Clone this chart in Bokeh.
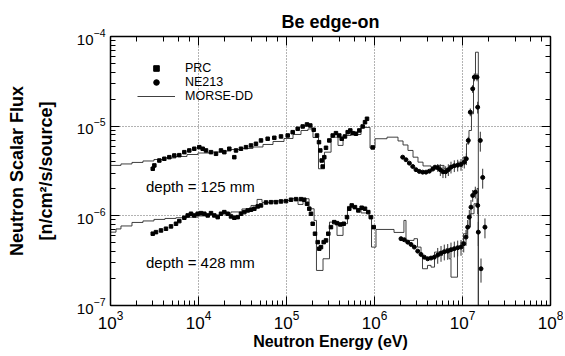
from bokeh.plotting import figure
from bokeh.models import (Range1d, LogAxis, Legend, LegendItem, Label,
                          CustomJSTickFormatter)
from bokeh.embed import file_html
from bokeh.resources import INLINE

# ---------------- data ----------------
# MORSE-DD calculation, depth 125 mm (histogram: bin edges in eV, flux per bin)
morse_125_edges = [1.0e3, 1.315e3, 1.754e3, 2.338e3, 3.118e3, 4.157e3, 5.543e3, 7.391e3, 9.856e3,
                   1.314e4, 1.753e4, 2.337e4, 3.117e4, 4.157e4, 5.404e4, 7.025e4, 9.37e4, 1.186e5,
                   1.462e5, 1.754e5, 2.0e5, 2.31e5, 2.70e5, 3.21e5, 3.85e5, 4.39e5, 5.41e5, 6.16e5,
                   7.03e5, 8.9e5, 1.014e6, 1.387e6, 1.85e6, 2.11e6, 2.40e6, 2.74e6, 3.12e6, 3.56e6,
                   4.39e6, 5.27e6, 6.17e6, 7.40e6, 8.89e6, 1.014e7, 1.11e7, 1.185e7, 1.265e7,
                   1.334e7, 1.405e7, 1.513e7]
morse_125_flux = [3.65e-6, 3.79e-6, 3.94e-6, 4.09e-6, 4.25e-6, 4.42e-6, 4.59e-6, 4.83e-6, 5.02e-6,
                  5.15e-6, 5.28e-6, 5.49e-6, 5.64e-6, 5.86e-6, 6.25e-6, 6.75e-6, 7.29e-6, 8.08e-6,
                  8.95e-6, 9.31e-6, 7.48e-6, 3.35e-6, 5.13e-6, 7.54e-6, 6.10e-6, 7.87e-6, 8.57e-6,
                  8.08e-6, 9.68e-6, 5.71e-6, 7.24e-6, 7.54e-6, 6.84e-6, 6.17e-6, 5.36e-6, 4.51e-6,
                  3.97e-6, 3.60e-6, 3.49e-6, 3.65e-6, 3.35e-6, 3.65e-6, 3.97e-6, 4.51e-6, 6.37e-6,
                  8.95e-6, 1.374e-5, 3.51e-5, 6.68e-5]

# MORSE-DD calculation, depth 428 mm
morse_428_edges = [1.0e3, 1.155e3, 1.315e3, 1.754e3, 2.338e3, 3.118e3, 4.157e3, 5.543e3, 7.391e3,
                   9.856e3, 1.314e4, 1.753e4, 2.337e4, 3.117e4, 3.95e4, 4.63e4, 5.27e4, 7.025e4,
                   9.37e4, 1.125e5, 1.352e5, 1.541e5, 1.805e5, 2.06e5, 2.19e5, 2.60e5, 3.08e5,
                   3.75e5, 4.39e5, 4.93e5, 5.70e5, 7.03e5, 8.67e5, 9.25e5, 1.04e6, 1.667e6, 2.16e6,
                   2.28e6, 2.81e6, 3.08e6, 3.38e6, 3.51e6, 4.00e6, 4.39e6, 4.81e6, 5.41e6, 5.93e6,
                   6.50e6, 7.03e6, 7.40e6, 8.77e6, 9.61e6, 1.026e7, 1.125e7, 1.233e7, 1.352e7,
                   1.463e7, 1.513e7]
morse_428_flux = [6.58e-7, 7.14e-7, 7.71e-7, 8.44e-7, 8.77e-7, 9.12e-7, 9.35e-7, 9.52e-7, 9.67e-7,
                  9.97e-7, 1.023e-6, 1.064e-6, 1.105e-6, 1.193e-6, 1.305e-6, 1.524e-6, 1.41e-6,
                  1.466e-6, 1.485e-6, 1.551e-6, 1.34e-6, 1.551e-6, 1.199e-6, 8.89e-7, 2.46e-7,
                  3.32e-7, 8.51e-7, 6.05e-7, 8.17e-7, 1.273e-6, 1.21e-6, 1.077e-6, 9.29e-7, 4.48e-7,
                  7.05e-7, 6.53e-7, 8.89e-7, 5.32e-7, 5.56e-7, 4.48e-7, 3.62e-7, 2.57e-7, 2.80e-7,
                  2.68e-7, 3.94e-7, 3.62e-7, 3.94e-7, 4.30e-7, 3.32e-7, 2.07e-7, 4.48e-7, 5.09e-7,
                  6.31e-7, 7.48e-7, 1.055e-6, 1.364e-6, 2.02e-6]

# PRC measurements, depth 125 mm
prc_125_energy = [3.02e3, 3.15e3, 3.59e3, 4.09e3, 4.66e3, 5.31e3, 6.05e3, 6.90e3, 7.86e3, 8.96e3,
                  1.021e4, 1.116e4, 1.217e4, 1.387e4, 1.581e4, 1.802e4, 1.965e4, 2.239e4, 2.552e4,
                  2.668e4, 3.04e4, 3.466e4, 3.95e4, 4.50e4, 5.13e4, 6.11e4, 7.27e4, 8.66e4, 1.032e5,
                  1.176e5, 1.341e5, 1.528e5, 1.71e5, 1.864e5, 2.038e5, 2.222e5, 2.34e5, 2.42e5,
                  2.512e5, 2.578e5, 2.688e5, 2.81e5, 3.064e5, 3.35e5, 3.65e5, 3.98e5, 4.24e5,
                  4.62e5, 4.96e5, 5.31e5, 5.65e5, 6.16e5, 6.72e5, 7.34e5, 7.80e5, 8.22e5, 9.54e5]
prc_125_flux = [3.35e-6, 3.65e-6, 4.14e-6, 4.33e-6, 4.51e-6, 4.71e-6, 4.75e-6, 5.13e-6, 5.36e-6,
                5.60e-6, 5.83e-6, 5.60e-6, 5.36e-6, 5.13e-6, 4.92e-6, 5.36e-6, 5.13e-6, 5.60e-6,
                4.51e-6, 5.36e-6, 5.60e-6, 5.83e-6, 6.09e-6, 6.36e-6, 6.93e-6, 7.24e-6, 7.42e-6,
                7.68e-6, 7.87e-6, 8.57e-6, 9.35e-6, 9.92e-6, 1.045e-5, 1.018e-5, 9.12e-6, 7.87e-6,
                6.63e-6, 5.36e-6, 4.14e-6, 3.55e-6, 4.51e-6, 5.74e-6, 6.93e-6, 7.87e-6, 8.36e-6,
                7.87e-6, 7.24e-6, 7.68e-6, 8.57e-6, 8.96e-6, 8.36e-6, 8.23e-6, 8.96e-6, 9.92e-6,
                1.108e-5, 1.209e-5, 5.79e-6]

# NE213 measurements, depth 125 mm
ne213_125_energy = [2.09e6, 2.28e6, 2.49e6, 2.72e6, 2.96e6, 3.23e6, 3.53e6, 3.85e6, 4.20e6, 4.59e6,
                    4.87e6, 5.23e6, 5.60e6, 6.00e6, 6.44e6, 6.90e6, 7.40e6, 8.07e6, 8.82e6, 9.62e6,
                    1.048e7, 1.105e7, 1.164e7, 1.226e7, 1.306e7, 1.362e7, 1.462e7, 1.488e7, 1.594e7]
ne213_125_flux = [4.51e-6, 4.22e-6, 3.87e-6, 3.55e-6, 3.27e-6, 3.13e-6, 3.07e-6, 3.07e-6, 3.15e-6,
                  3.32e-6, 3.49e-6, 3.44e-6, 3.27e-6, 3.10e-6, 3.10e-6, 3.27e-6, 3.49e-6, 3.62e-6,
                  3.67e-6, 3.74e-6, 3.97e-6, 4.33e-6, 6.93e-6, 1.432e-5, 2.61e-5, 3.52e-5, 3.52e-5,
                  1.628e-5, 6.93e-6]
ne213_125_relerr = [0, 0, 0, 0, 0, 0, 0, 0, 0, 0, 0, 0.1, 0.15, 0.15, 0.15, 0.15, 0.15, 0.15, 0.15,
                    0.15, 0.15, 0.15, 0.1, 0.1, 0.1, 0.1, 0.1, 0.15, 0.25]

# PRC measurements, depth 428 mm
prc_428_energy = [3.02e3, 3.29e3, 3.75e3, 4.27e3, 4.87e3, 5.55e3, 6.05e3, 6.90e3, 7.54e3, 8.22e3,
                  8.96e3, 9.79e3, 1.068e4, 1.164e4, 1.273e4, 1.387e4, 1.512e4, 1.653e4, 1.802e4,
                  1.965e4, 2.147e4, 2.34e4, 2.552e4, 2.79e4, 3.04e4, 3.315e4, 3.624e4, 3.95e4,
                  4.31e4, 4.71e4, 5.13e4, 5.85e4, 6.67e4, 7.60e4, 8.66e4, 9.87e4, 1.125e5, 1.282e5,
                  1.461e5, 1.593e5, 1.71e5, 1.816e5, 1.898e5, 1.985e5, 2.108e5, 2.262e5, 2.359e5,
                  2.466e5, 2.647e5, 2.81e5, 2.985e5, 3.20e5, 3.49e5, 3.75e5, 4.09e5, 4.47e5, 4.87e5,
                  5.17e5, 5.51e5, 6.00e5, 6.55e5, 7.15e5, 7.80e5, 8.50e5, 9.13e5, 9.79e5]
prc_428_flux = [6.32e-7, 6.58e-7, 6.87e-7, 7.18e-7, 7.62e-7, 8.16e-7, 8.73e-7, 9.52e-7, 1.010e-6,
                1.055e-6, 1.010e-6, 1.055e-6, 1.072e-6, 1.055e-6, 1.010e-6, 1.072e-6, 1.010e-6,
                9.67e-7, 1.055e-6, 1.100e-6, 1.055e-6, 9.85e-7, 9.52e-7, 9.67e-7, 1.055e-6,
                1.100e-6, 1.149e-6, 1.17e-6, 1.20e-6, 1.273e-6, 1.306e-6, 1.41e-6, 1.42e-6,
                1.421e-6, 1.447e-6, 1.459e-6, 1.512e-6, 1.535e-6, 1.535e-6, 1.512e-6, 1.364e-6,
                1.20e-6, 1.055e-6, 8.16e-7, 6.32e-7, 5.09e-7, 4.30e-7, 4.48e-7, 5.09e-7, 5.32e-7,
                6.32e-7, 7.48e-7, 8.51e-7, 8.29e-7, 8.02e-7, 8.16e-7, 9.67e-7, 1.20e-6, 1.306e-6,
                1.25e-6, 1.149e-6, 1.231e-6, 1.20e-6, 1.10e-6, 9.67e-7, 7.48e-7]

# NE213 measurements, depth 428 mm
ne213_428_energy = [2.00e6, 2.18e6, 2.385e6, 2.60e6, 2.835e6, 3.10e6, 3.38e6, 3.68e6, 4.02e6,
                    4.385e6, 4.78e6, 5.23e6, 5.70e6, 6.21e6, 6.79e6, 7.40e6, 8.07e6, 8.82e6,
                    9.62e6, 1.032e7, 1.096e7, 1.146e7, 1.195e7, 1.249e7, 1.306e7, 1.398e7,
                    1.488e7, 1.512e7, 1.623e7, 1.696e7, 1.80e7]
ne213_428_flux = [5.56e-7, 5.41e-7, 5.09e-7, 4.80e-7, 4.48e-7, 4.04e-7, 3.71e-7, 3.46e-7, 3.32e-7,
                  3.38e-7, 3.46e-7, 3.65e-7, 3.84e-7, 3.98e-7, 4.04e-7, 4.19e-7, 4.30e-7, 4.41e-7,
                  4.48e-7, 4.89e-7, 5.79e-7, 7.48e-7, 9.67e-7, 1.25e-6, 1.688e-6, 1.837e-6,
                  1.306e-6, 6.58e-7, 2.57e-7, 2.68e-6, 7.48e-7]
ne213_428_relerr = [0, 0, 0, 0, 0, 0, 0, 0, 0, 0, 0, 0.2, 0.2, 0.2, 0.2, 0.2, 0.2, 0.2, 0.2, 0.2,
                    0.2, 0.2, 0.2, 0.2, 0.15, 0.15, 0.2, 0.3, 0.3, 0.25, 0.25]

legend_labels = ["PRC", "NE213", "MORSE-DD"]
depth_labels = ["depth = 125 mm", "depth = 428 mm"]
depth_label_pos = [(2.53e3, 2.13e-6), (2.53e3, 3.02e-7)]

FLOOR = 1e-9  # histogram closes down below the axis

FONT = "Liberation Sans"
INK = "black"

# ---------------- figure ----------------
p = figure(width=563, height=352, x_axis_type="log", y_axis_type="log",
           x_range=Range1d(1e3, 1e8), y_range=Range1d(1e-7, 1e-4),
           output_backend="svg", toolbar_location=None,
           min_border_left=110, min_border_right=13, min_border_top=36, min_border_bottom=47)

p.title.text = "Be edge-on"
p.title.align = "center"
p.title.text_font = FONT
p.title.text_font_size = "18px"
p.title.text_font_style = "bold"
p.title.text_color = INK
p.title.standoff = 10

p.outline_line_color = None
p.background_fill_color = "white"
p.border_fill_color = "white"

for ax in (p.xaxis[0], p.yaxis[0]):
    ax.axis_line_width = 1.5
    ax.axis_line_color = INK
    ax.major_tick_in = 9
    ax.major_tick_out = 0
    ax.minor_tick_in = 5
    ax.minor_tick_out = 0
    ax.major_tick_line_color = INK
    ax.minor_tick_line_color = INK
    ax.major_label_text_font = FONT
    ax.major_label_text_color = INK
    ax.axis_label_text_font = FONT
    ax.axis_label_text_font_style = "bold"
    ax.axis_label_text_color = INK

p.xaxis[0].major_label_text_font_size = "17px"
p.xaxis[0].major_label_standoff = 5
p.xaxis[0].axis_label = "Neutron Energy (eV)"
p.xaxis[0].axis_label_text_font_size = "16px"
p.xaxis[0].axis_label_standoff = 1

p.yaxis[0].major_label_text_font_size = "15px"
p.yaxis[0].major_label_standoff = 5
p.yaxis[0].axis_label = "Neutron Scalar Flux\n[n/cm\u00b2/s/source]"
p.yaxis[0].axis_label_text_font_size = "18px"
p.yaxis[0].axis_label_text_line_height = 1.45
p.yaxis[0].axis_label_standoff = 18

# mirrored axes (ticks only) on top and right
blank = CustomJSTickFormatter(code="return ''")
for loc in ("above", "right"):
    ax = LogAxis(formatter=blank)
    ax.axis_line_width = 1.5
    ax.axis_line_color = INK
    ax.major_tick_in = 9
    ax.major_tick_out = 0
    ax.minor_tick_in = 5
    ax.minor_tick_out = 0
    ax.major_label_standoff = 0
    ax.major_label_text_font_size = "1px"
    p.add_layout(ax, loc)

for g in (p.xgrid[0], p.ygrid[0]):
    g.grid_line_color = "#666666"
    g.grid_line_dash = "1 2"
    g.grid_line_width = 1
    g.minor_grid_line_color = None

# ---------------- MORSE-DD histograms ----------------
r_morse = p.step(morse_125_edges, morse_125_flux + [FLOOR], mode="after",
                 line_color="#2a2a2a", line_width=0.9)
p.step(morse_428_edges, morse_428_flux + [FLOOR], mode="after",
       line_color="#2a2a2a", line_width=0.9)

# ---------------- error bars on NE213 ----------------
for en, fl, er in ((ne213_125_energy, ne213_125_flux, ne213_125_relerr),
                   (ne213_428_energy, ne213_428_flux, ne213_428_relerr)):
    xs = [e for e, r in zip(en, er) if r > 0]
    lo = [f * (1 - r) for f, r in zip(fl, er) if r > 0]
    hi = [f * (1 + r) for f, r in zip(fl, er) if r > 0]
    p.segment(x0=xs, y0=lo, x1=xs, y1=hi, line_color="#333333", line_width=1)

# ---------------- measurements ----------------
r_prc = p.scatter(prc_125_energy, prc_125_flux, marker="square", size=3.5,
                  fill_color=INK, line_color=INK)
p.scatter(prc_428_energy, prc_428_flux, marker="square", size=3.5,
          fill_color=INK, line_color=INK)
r_ne = p.scatter(ne213_125_energy, ne213_125_flux, marker="circle", size=4,
                 fill_color=INK, line_color=INK)
p.scatter(ne213_428_energy, ne213_428_flux, marker="circle", size=4,
          fill_color=INK, line_color=INK)

# ---------------- legend ----------------
legend = Legend(items=[LegendItem(label=legend_labels[0], renderers=[r_prc]),
                       LegendItem(label=legend_labels[1], renderers=[r_ne]),
                       LegendItem(label=legend_labels[2], renderers=[r_morse])],
                location=(27, 202), orientation="vertical")
legend.border_line_color = None
legend.background_fill_alpha = 0
legend.padding = 0
legend.margin = 0
legend.spacing = 0
legend.glyph_width = 38
legend.glyph_height = 14
legend.label_height = 14
legend.label_standoff = 10
legend.label_text_font = FONT
legend.label_text_font_size = "12.5px"
legend.label_text_color = INK
p.add_layout(legend, "center")

# ---------------- depth annotations ----------------
for txt, (lx, ly) in zip(depth_labels, depth_label_pos):
    p.add_layout(Label(x=lx, y=ly, text=txt, text_font=FONT, text_font_size="15px",
                       text_baseline="middle", text_align="left", text_color=INK))

open("out.html", "w").write(file_html(p, INLINE))
